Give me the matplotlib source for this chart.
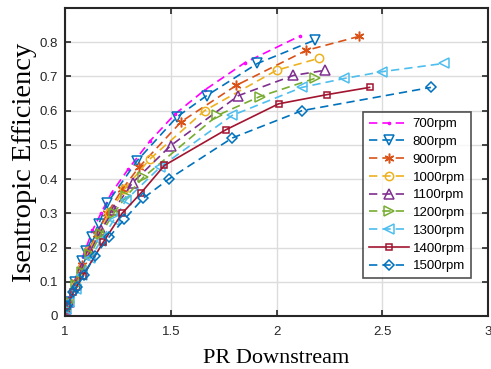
import matplotlib
matplotlib.use("Agg")
import matplotlib.pyplot as plt

labels = ["700rpm", "800rpm", "900rpm", "1000rpm", "1100rpm", "1200rpm", "1300rpm", "1400rpm", "1500rpm"]

x700 = [1.005, 1.02, 1.04, 1.07, 1.10, 1.13, 1.17, 1.22, 1.30, 1.40, 1.52, 1.66, 1.85, 2.11]
y700 = [0.02, 0.05, 0.09, 0.15, 0.20, 0.25, 0.30, 0.36, 0.43, 0.51, 0.59, 0.66, 0.74, 0.818]

x800 = [1.005, 1.02, 1.045, 1.08, 1.10, 1.13, 1.16, 1.20, 1.34, 1.53, 1.67, 1.91, 2.18]
y800 = [0.02, 0.04, 0.10, 0.16, 0.19, 0.23, 0.27, 0.33, 0.453, 0.582, 0.644, 0.738, 0.806]

x900 = [1.005, 1.02, 1.05, 1.08, 1.11, 1.15, 1.20, 1.27, 1.35, 1.55, 1.81, 2.14, 2.39]
y900 = [0.02, 0.04, 0.10, 0.15, 0.19, 0.24, 0.30, 0.37, 0.435, 0.568, 0.674, 0.776, 0.817]

x1000 = [1.005, 1.02, 1.05, 1.08, 1.11, 1.16, 1.21, 1.28, 1.40, 1.66, 2.00, 2.20]
y1000 = [0.02, 0.04, 0.09, 0.14, 0.19, 0.24, 0.30, 0.37, 0.458, 0.60, 0.718, 0.753]

x1100 = [1.005, 1.02, 1.05, 1.08, 1.12, 1.17, 1.23, 1.32, 1.50, 1.82, 2.08, 2.23]
y1100 = [0.02, 0.04, 0.09, 0.14, 0.19, 0.25, 0.31, 0.39, 0.498, 0.644, 0.703, 0.718]

x1200 = [1.005, 1.02, 1.05, 1.08, 1.12, 1.17, 1.23, 1.29, 1.37, 1.72, 1.92, 2.18]
y1200 = [0.02, 0.04, 0.09, 0.13, 0.18, 0.24, 0.30, 0.35, 0.405, 0.586, 0.641, 0.694]

x1300 = [1.005, 1.02, 1.05, 1.08, 1.12, 1.17, 1.23, 1.29, 1.45, 1.79, 2.12, 2.32, 2.50, 2.79]
y1300 = [0.02, 0.04, 0.08, 0.12, 0.17, 0.22, 0.28, 0.34, 0.435, 0.586, 0.668, 0.694, 0.714, 0.738]

x1400 = [1.01, 1.04, 1.085, 1.18, 1.27, 1.36, 1.47, 1.76, 2.01, 2.24, 2.44]
y1400 = [0.03, 0.07, 0.118, 0.215, 0.30, 0.36, 0.44, 0.544, 0.62, 0.647, 0.668]

x1500 = [1.01, 1.04, 1.056, 1.09, 1.14, 1.21, 1.28, 1.37, 1.49, 1.79, 2.12, 2.73]
y1500 = [0.03, 0.07, 0.085, 0.12, 0.175, 0.232, 0.282, 0.344, 0.40, 0.52, 0.60, 0.668]

xs = [x700, x800, x900, x1000, x1100, x1200, x1300, x1400, x1500]
ys = [y700, y800, y900, y1000, y1100, y1200, y1300, y1400, y1500]

colors = ["#FF00FF", "#0072BD", "#D95319", "#EDB120", "#7E2F8E", "#77AC30", "#4DBEEE", "#A2142F", "#0072BD"]
markers = [".", "v", (6, 2, 0), "o", "^", ">", "<", "s", "D"]
msizes = [3, 7, 7, 6, 7, 7, 7, 5, 5.5]
styles = [(0, (5, 3))] * 7 + ["-", (0, (5, 3))]

fig = plt.figure(figsize=(4.91, 3.69), dpi=100)
ax = fig.add_axes([65 / 491, 1 - 316 / 369, (488 - 65) / 491, (316 - 8) / 369])

for x, y, c, m, ms, ls, lab in zip(xs, ys, colors, markers, msizes, styles, labels):
    ax.plot(x, y, color=c, marker=m, markersize=ms, mfc="none", mec=c, mew=1.1,
            linestyle=ls, linewidth=1.2, label=lab)

ax.set_xlim(1, 3)
ax.set_ylim(0, 0.9)
ax.set_xticks([1, 1.5, 2, 2.5, 3])
ax.set_xticklabels(["1", "1.5", "2", "2.5", "3"])
ax.set_yticks([0, 0.1, 0.2, 0.3, 0.4, 0.5, 0.6, 0.7, 0.8])
ax.set_yticklabels(["0", "0.1", "0.2", "0.3", "0.4", "0.5", "0.6", "0.7", "0.8"])
ax.grid(True, color="#DCDCDC", linewidth=1.0)
ax.set_axisbelow(True)
ax.tick_params(direction="in", length=4, width=1.2, top=True, right=True,
               labelsize=9.5, colors="#262626")
ax.tick_params(axis="x", pad=7)
ax.tick_params(axis="y", pad=5)
for lbl in ax.get_xticklabels() + ax.get_yticklabels():
    lbl.set_fontfamily("Liberation Sans")
for s in ax.spines.values():
    s.set_linewidth(1.5)
    s.set_color("#262626")

ax.set_xlabel("PR Downstream", fontfamily="Liberation Serif", fontsize=16, labelpad=8)
ax.set_ylabel("Isentropic Efficiency", fontfamily="Liberation Serif", fontsize=20.5, labelpad=2)

leg = ax.legend(loc="upper left", bbox_to_anchor=((363 - 65) / 423, (316 - 112) / 308),
                prop={"family": "Liberation Sans", "size": 9.5}, frameon=True, fancybox=False,
                edgecolor="#262626", handlelength=3.0, handletextpad=0.3, labelspacing=0.42,
                borderpad=0.45, borderaxespad=0)
leg.get_frame().set_linewidth(1.2)

fig.savefig("out.png", dpi=100)
